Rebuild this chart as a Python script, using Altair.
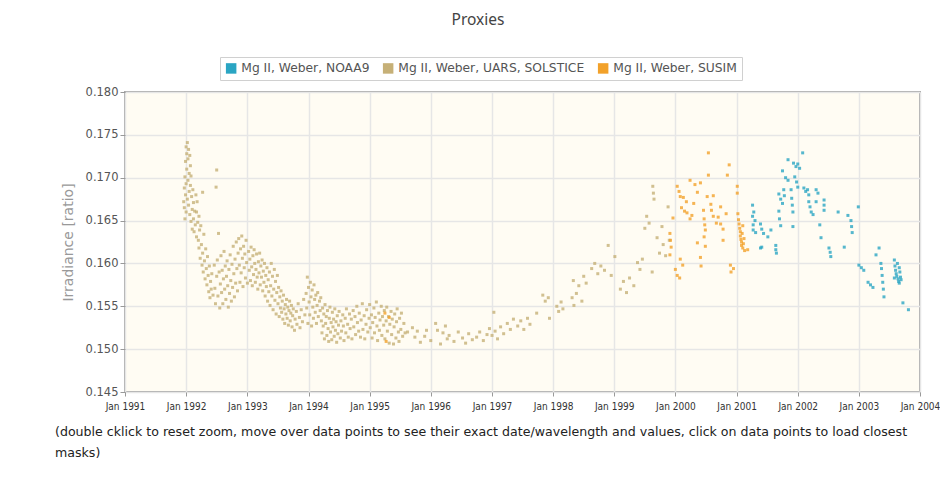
import altair as alt
import pandas as pd

TITLE = "Proxies"
Y_TITLE = "Irradiance [ratio]"
SERIES = ["Mg II, Weber, NOAA9", "Mg II, Weber, UARS, SOLSTICE", "Mg II, Weber, SUSIM"]
COLORS = ["#2aa5c3", "#c6b077", "#f2a12a"]
X_TICK_YEARS = list(range(1991, 2005))
Y_TICKS = [0.145, 0.150, 0.155, 0.160, 0.165, 0.170, 0.175, 0.180]
FOOTER = [
    "(double cklick to reset zoom, move over data points to see their exact date/wavelength and values, click on data points to load closest",
    "masks)",
]

# (decimal year, value)
SOLSTICE_PTS = [
    (1991.96,0.1672),(1991.97,0.1688),(1991.97,0.1665),(1991.98,0.1701),(1991.98,0.1652),(1991.99,0.1719),(1991.99,0.1680),
    (1992.00,0.1736),(1992.00,0.1693),(1992.00,0.1660),(1992.01,0.1728),(1992.01,0.1710),(1992.02,0.1741),(1992.02,0.1675),
    (1992.03,0.1722),(1992.03,0.1697),(1992.04,0.1733),(1992.04,0.1668),(1992.05,0.1705),(1992.05,0.1684),(1992.06,0.1726),
    (1992.06,0.1657),(1992.07,0.1714),(1992.07,0.1691),(1992.08,0.1702),(1992.08,0.1649),(1992.09,0.1678),(1992.10,0.1663),
    (1992.10,0.1640),(1992.11,0.1686),(1992.12,0.1671),(1992.12,0.1652),(1992.13,0.1637),(1992.14,0.1661),(1992.15,0.1645),
    (1992.16,0.1680),(1992.17,0.1660),(1992.17,0.1631),(1992.18,0.1672),(1992.19,0.1648),(1992.20,0.1627),(1992.21,0.1655),
    (1992.21,0.1618),(1992.22,0.1639),(1992.23,0.1606),(1992.24,0.1644),(1992.25,0.1622),(1992.26,0.1598),(1992.27,0.1612),
    (1992.28,0.1590),(1992.29,0.1634),(1992.30,0.1603),(1992.31,0.1582),(1992.32,0.1617),(1992.33,0.1594),(1992.34,0.1575),
    (1992.35,0.1608),(1992.36,0.1586),(1992.37,0.1567),(1992.38,0.1597),(1992.39,0.1560),(1992.40,0.1579),(1992.41,0.1570),
    (1992.42,0.1588),(1992.44,0.1563),(1992.50,0.1709),(1992.49,0.1689),(1992.27,0.1683),
    (1992.46,0.1598),(1992.47,0.1571),(1992.48,0.1553),(1992.50,0.1585),(1992.51,0.1604),(1992.52,0.1562),(1992.53,0.1635),
    (1992.54,0.1590),(1992.55,0.1548),(1992.56,0.1576),(1992.57,0.1609),(1992.58,0.1566),(1992.59,0.1592),(1992.60,0.1553),
    (1992.61,0.1582),(1992.62,0.1614),(1992.63,0.1570),(1992.64,0.1597),(1992.65,0.1558),(1992.66,0.1585),(1992.67,0.1603),
    (1992.68,0.1574),(1992.69,0.1549),(1992.70,0.1593),(1992.71,0.1565),(1992.72,0.1610),(1992.73,0.1580),(1992.74,0.1556),
    (1992.75,0.1599),(1992.76,0.1572),(1992.77,0.1620),(1992.78,0.1588),(1992.79,0.1561),(1992.80,0.1605),(1992.81,0.1577),
    (1992.82,0.1625),(1992.83,0.1594),(1992.84,0.1568),(1992.85,0.1612),
    (1992.86,0.1629),(1992.87,0.1598),(1992.88,0.1578),(1992.89,0.1617),(1992.90,0.1589),(1992.91,0.1632),(1992.92,0.1606),
    (1992.93,0.1573),(1992.94,0.1620),(1992.95,0.1595),(1992.96,0.1611),(1992.97,0.1583),(1992.98,0.1627),(1992.99,0.1601),
    (1993.00,0.1577),(1993.02,0.1614),(1993.03,0.1592),(1993.04,0.1605),(1993.05,0.1580),(1993.06,0.1619),(1993.07,0.1596),
    (1993.08,0.1574),(1993.09,0.1609),(1993.10,0.1587),(1993.11,0.1616),(1993.12,0.1600),(1993.13,0.1578),(1993.14,0.1593),
    (1993.15,0.1611),(1993.16,0.1584),(1993.17,0.1570),(1993.18,0.1602),(1993.19,0.1589),(1993.20,0.1612),(1993.21,0.1575),
    (1993.22,0.1597),(1993.23,0.1584),(1993.24,0.1604),(1993.25,0.1568),(1993.26,0.1591),(1993.27,0.1578),(1993.28,0.1600),
    (1993.29,0.1562),(1993.30,0.1586),(1993.31,0.1573),(1993.32,0.1595),(1993.33,0.1556),(1993.34,0.1581),(1993.35,0.1567),
    (1993.36,0.1590),(1993.37,0.1551),(1993.38,0.1574),(1993.39,0.1600),(1993.40,0.1562),(1993.41,0.1585),(1993.42,0.1546),
    (1993.43,0.1570),(1993.44,0.1593),(1993.45,0.1557),(1993.46,0.1579),(1993.47,0.1541),(1993.48,0.1566),(1993.49,0.1586),
    (1993.50,0.1553),(1993.51,0.1572),(1993.52,0.1538),(1993.53,0.1561),(1993.54,0.1548),(1993.55,0.1568),(1993.56,0.1543),
    (1993.57,0.1556),(1993.58,0.1535),(1993.59,0.1563),(1993.60,0.1547),(1993.61,0.1530),(1993.62,0.1552),(1993.63,0.1541),
    (1993.64,0.1558),(1993.65,0.1536),(1993.66,0.1549),(1993.67,0.1528),(1993.68,0.1545),(1993.69,0.1556),(1993.70,0.1533),
    (1993.71,0.1542),(1993.72,0.1551),(1993.73,0.1526),(1993.74,0.1539),(1993.75,0.1547),(1993.77,0.1522),(1993.78,0.1535),
    (1993.80,0.1544),(1993.81,0.1529),(1993.83,0.1553),(1993.85,0.1537),(1993.86,0.1525),(1993.88,0.1546),(1993.90,0.1532),
    (1993.92,0.1558),(1993.94,0.1540),
    (1993.96,0.1565),(1993.97,0.1548),(1993.98,0.1584),(1993.99,0.1530),(1994.00,0.1572),(1994.01,0.1555),(1994.02,0.1540),
    (1994.03,0.1578),(1994.04,0.1561),(1994.05,0.1527),(1994.06,0.1569),(1994.07,0.1549),(1994.08,0.1536),(1994.09,0.1575),
    (1994.10,0.1558),(1994.11,0.1543),(1994.12,0.1563),(1994.13,0.1530),(1994.14,0.1551),(1994.15,0.1566),(1994.16,0.1538),
    (1994.18,0.1556),(1994.19,0.1545),
    (1994.20,0.1560),(1994.21,0.1533),(1994.22,0.1519),(1994.23,0.1548),(1994.24,0.1527),(1994.25,0.1541),(1994.26,0.1512),
    (1994.27,0.1552),(1994.28,0.1530),(1994.29,0.1538),(1994.30,0.1516),(1994.31,0.1545),(1994.32,0.1524),(1994.33,0.1509),
    (1994.34,0.1536),(1994.35,0.1549),(1994.36,0.1520),(1994.37,0.1531),(1994.38,0.1511),(1994.39,0.1543),(1994.40,0.1526),
    (1994.41,0.1535),(1994.42,0.1515),(1994.43,0.1547),(1994.44,0.1522),(1994.45,0.1532),(1994.46,0.1508),(1994.47,0.1539),
    (1994.48,0.1518),(1994.49,0.1528),(1994.50,0.1544),(1994.52,0.1513),(1994.53,0.1533),(1994.54,0.1521),(1994.56,0.1540),
    (1994.57,0.1527),(1994.58,0.1510),(1994.60,0.1536),(1994.61,0.1519),(1994.62,0.1547),(1994.64,0.1529),(1994.65,0.1514),
    (1994.67,0.1541),(1994.68,0.1524),(1994.70,0.1535),(1994.71,0.1512),(1994.73,0.1545),(1994.74,0.1526),(1994.76,0.1538),
    (1994.77,0.1517),(1994.79,0.1550),(1994.80,0.1531),(1994.82,0.1521),(1994.83,0.1542),(1994.85,0.1514),(1994.86,0.1534),
    (1994.88,0.1553),(1994.89,0.1523),(1994.91,0.1539),(1994.92,0.1512),(1994.94,0.1529),(1994.95,0.1546),(1994.97,0.1520),
    (1994.99,0.1536),
    (1995.00,0.1552),(1995.01,0.1525),(1995.03,0.1540),(1995.04,0.1513),(1995.05,0.1531),(1995.07,0.1548),(1995.08,0.1519),
    (1995.09,0.1537),(1995.11,0.1555),(1995.12,0.1527),(1995.13,0.1510),(1995.15,0.1542),(1995.16,0.1522),(1995.17,0.1534),
    (1995.19,0.1550),(1995.20,0.1516),(1995.21,0.1538),(1995.23,0.1528),(1995.24,0.1545),(1995.25,0.1512),(1995.27,0.1533),
    (1995.28,0.1549),(1995.29,0.1521),(1995.31,0.1538),(1995.32,0.1507),(1995.33,0.1529),(1995.35,0.1544),(1995.36,0.1517),
    (1995.37,0.1535),(1995.39,0.1506),(1995.40,0.1526),(1995.41,0.1541),(1995.43,0.1513),(1995.44,0.1532),(1995.45,0.1547),
    (1995.47,0.1520),(1995.48,0.1509),(1995.49,0.1536),(1995.51,0.1523),(1995.52,0.1542),(1995.54,0.1515),(1995.56,0.1530),
    (1995.58,0.1519),
    (1995.62,0.1520),(1995.70,0.1525),(1995.74,0.1514),(1995.78,0.1521),(1995.83,0.1508),(1995.90,0.1515),(1995.93,0.1522),
    (1996.00,0.1510),(1996.08,0.1530),(1996.11,0.1522),(1996.16,0.1506),(1996.20,0.1519),(1996.24,0.1527),(1996.27,0.1512),
    (1996.30,0.1516),(1996.38,0.1509),(1996.45,0.1520),(1996.52,0.1513),(1996.57,0.1507),(1996.62,0.1518),(1996.68,0.1511),
    (1996.75,0.1514),(1996.80,0.1520),(1996.86,0.1510),(1996.92,0.1517),(1996.96,0.1524),(1997.00,0.1516),(1997.03,0.1543),
    (1997.05,0.1521),(1997.09,0.1512),(1997.14,0.1526),(1997.19,0.1518),(1997.25,0.1530),(1997.30,0.1523),(1997.35,0.1535),
    (1997.42,0.1527),(1997.47,0.1533),(1997.52,0.1523),(1997.58,0.1536),(1997.62,0.1529),(1997.73,0.1542),(1997.83,0.1563),
    (1997.87,0.1556),(1997.92,0.1560),(1997.94,0.1536),(1998.06,0.1550),(1998.09,0.1544),(1998.13,0.1555),(1998.16,0.1547),
    (1998.31,0.1560),(1998.34,0.1551),(1998.38,0.1565),(1998.33,0.1580),(1998.42,0.1574),(1998.47,0.1556),(1998.50,0.1585),
    (1998.54,0.1577),
    (1998.63,0.1594),(1998.68,0.1600),(1998.73,0.1588),(1998.78,0.1597),(1998.84,0.1592),(1998.90,0.1621),(1998.95,0.1586),
    (1999.01,0.1608),(1999.10,0.1570),(1999.15,0.1579),(1999.20,0.1566),(1999.25,0.1583),(1999.32,0.1574),(1999.38,0.1601),
    (1999.42,0.1593),(1999.46,0.1605),(1999.50,0.1641),(1999.53,0.1655),(1999.57,0.1647),(1999.62,0.1590),(1999.63,0.1690),
    (1999.64,0.1682),(1999.65,0.1675),(1999.70,0.1630),(1999.74,0.1612),(1999.78,0.1643),(1999.80,0.1622),(1999.84,0.1609),
    (1999.88,0.1666),(1999.90,0.1627),
]

SUSIM_PTS = [
    (1995.25,0.1542),(1995.32,0.1537),(1995.27,0.1509),
    (2000.54,0.1729),(2000.88,0.1715),(2000.85,0.1703),(2000.54,0.1703),(2000.24,0.1697),(2000.32,0.1692),(2000.41,0.1694),
    (2000.03,0.1690),(2000.06,0.1684),(2000.08,0.1678),(2000.13,0.1677),(2000.18,0.1672),(2000.36,0.1683),(2000.52,0.1678),
    (2000.62,0.1679),(2000.74,0.1666),(1999.96,0.1653),(2000.19,0.1659),(2000.24,0.1652),(2000.27,0.1656),(2000.46,0.1662),
    (2000.47,0.1652),(2000.48,0.1645),(2000.49,0.1639),(2000.59,0.1662),(2000.62,0.1655),(2000.70,0.1654),(2000.74,0.1646),
    (2000.78,0.1640),(1999.91,0.1635),(1999.92,0.1627),(1999.93,0.1619),(2000.36,0.1624),(2000.47,0.1631),(2000.49,0.1620),
    (2000.78,0.1627),(1999.91,0.1610),(2000.08,0.1605),(2000.12,0.1598),(2000.41,0.1607),(2000.42,0.1597),(2000.00,0.1593),
    (2000.03,0.1586),(2000.07,0.1583),(2000.90,0.1598),(2000.91,0.1590),(2000.95,0.1594),
    (2000.10,0.1665),(2000.15,0.1661),(2000.30,0.1670),(2000.58,0.1669),(2000.67,0.1647),(2000.83,0.1658),
    (2001.01,0.1690),(2001.01,0.1682),(2001.02,0.1658),(2001.03,0.1651),(2001.04,0.1646),(2001.05,0.1641),(2001.06,0.1637),
    (2001.06,0.1632),(2001.07,0.1628),(2001.08,0.1625),(2001.08,0.1621),(2001.09,0.1635),(2001.10,0.1644),(2001.10,0.1618),
    (2001.11,0.1623),(2001.12,0.1629),(2001.13,0.1615),(2001.18,0.1616),
]

NOAA9_PTS = [
    (2001.26,0.1668),(2001.26,0.1655),(2001.27,0.1645),(2001.27,0.1639),(2001.28,0.1660),(2001.30,0.1650),(2001.31,0.1636),
    (2001.39,0.1646),(2001.41,0.1640),(2001.44,0.1635),(2001.51,0.1631),(2001.39,0.1618),(2001.41,0.1619),(2001.56,0.1639),
    (2001.64,0.1621),(2001.64,0.1616),(2001.65,0.1612),(2001.69,0.1661),(2001.70,0.1652),(2001.72,0.1644),(2001.69,0.1681),
    (2001.72,0.1675),(2001.75,0.1670),(2001.77,0.1686),(2001.78,0.1679),(2001.84,0.1721),(2001.75,0.1708),(2001.80,0.1700),
    (2001.84,0.1697),(2001.89,0.1686),(2001.90,0.1676),(2001.91,0.1668),(2001.92,0.1660),(2001.92,0.1643),(2001.93,0.1717),
    (2001.97,0.1713),(2002.00,0.1716),(2002.03,0.1711),(2001.95,0.1701),(2001.98,0.1695),(2002.00,0.1689),(2002.08,0.1729),
    (2002.10,0.1688),(2002.13,0.1684),(2002.16,0.1686),(2002.18,0.1680),(2002.18,0.1672),(2002.20,0.1666),(2002.22,0.1660),
    (2002.25,0.1657),(2002.30,0.1686),(2002.33,0.1682),(2002.30,0.1672),(2002.43,0.1674),(2002.43,0.1668),(2002.43,0.1662),
    (2002.36,0.1645),(2002.38,0.1630),(2002.51,0.1618),(2002.53,0.1613),(2002.54,0.1608),(2002.66,0.1660),(2002.76,0.1619),
    (2002.82,0.1656),(2002.87,0.1650),(2002.88,0.1643),(2002.89,0.1636),(2002.99,0.1666),(2003.00,0.1598),(2003.04,0.1595),
    (2003.08,0.1592),(2003.15,0.1578),(2003.19,0.1575),(2003.23,0.1572),(2003.28,0.1610),(2003.33,0.1618),(2003.36,0.1600),
    (2003.37,0.1594),(2003.38,0.1586),(2003.39,0.1578),(2003.40,0.1570),(2003.41,0.1561),(2003.58,0.1604),(2003.59,0.1597),
    (2003.60,0.1592),(2003.61,0.1588),(2003.62,0.1585),(2003.63,0.1600),(2003.64,0.1582),(2003.65,0.1579),(2003.66,0.1595),
    (2003.66,0.1577),(2003.67,0.1590),(2003.68,0.1584),(2003.69,0.1581),(2003.58,0.1583),(2003.72,0.1554),(2003.81,0.1546),
]


def to_iso(dy):
    year = int(dy)
    ts = pd.Timestamp(year=year, month=1, day=1) + pd.Timedelta(days=(dy - year) * 365.25)
    return ts.strftime("%Y-%m-%dT%H:%M:%S")


rows = []
for name, pts in [(SERIES[1], SOLSTICE_PTS), (SERIES[2], SUSIM_PTS), (SERIES[0], NOAA9_PTS)]:
    for dy, v in pts:
        rows.append({"date": to_iso(dy), "value": v, "series": name})
df = pd.DataFrame(rows)

x_ticks = [alt.DateTime(year=y, month=1, date=1) for y in X_TICK_YEARS]

NARROW = "DejaVu Sans Condensed, Liberation Sans Narrow, Liberation Sans"

points = alt.Chart(df).mark_square(size=9, opacity=0.8).encode(
    x=alt.X(
        "date:T",
        scale=alt.Scale(domain=[x_ticks[0], x_ticks[-1]], nice=False),
        axis=alt.Axis(
            values=x_ticks, format="%b %Y", title=None, labelFont=NARROW,
            labelFontSize=10, labelColor="#333", tickColor="#999", tickSize=4, domain=False,
            gridColor="#e6e6e6", gridWidth=1.5, labelPadding=5, labelOverlap=False,
            labelBound=False, labelFlush=False,
        ),
    ),
    y=alt.Y(
        "value:Q",
        scale=alt.Scale(domain=[0.145, 0.180], nice=False, zero=False),
        axis=alt.Axis(
            values=Y_TICKS, format=".3f", title=Y_TITLE, titleFont="DejaVu Sans",
            titleFontSize=14, titleFontWeight="normal", titleColor="#999", titlePadding=10,
            labelFont="DejaVu Sans", labelFontSize=11.5, labelColor="#555",
            tickColor="#999", tickSize=5, domain=False, gridColor="#e6e6e6", gridWidth=1.5,
        ),
    ),
    color=alt.Color(
        "series:N",
        scale=alt.Scale(domain=SERIES, range=COLORS),
        legend=alt.Legend(
            title=None, orient="none", legendX=95, legendY=-35, direction="horizontal",
            symbolType="square", symbolSize=110, symbolOpacity=1, symbolStrokeWidth=0,
            labelFont="DejaVu Sans", labelFontSize=12.3, labelColor="#555", labelLimit=400,
            strokeColor="#d0d0d0", fillColor="#ffffff", padding=5, columnPadding=12,
        ),
    ),
)

title_text = alt.Chart(pd.DataFrame({"t": [TITLE]})).mark_text(
    font="Noto Sans", fontSize=15.5, color="#444", align="center", baseline="middle"
).encode(text="t:N", x=alt.value(353), y=alt.value(-72))

footer1 = alt.Chart(pd.DataFrame({"t": [FOOTER[0]]})).mark_text(
    font="DejaVu Sans", fontSize=12.6, color="#222", align="left", baseline="middle"
).encode(text="t:N", x=alt.value(-70), y=alt.value(340))

footer2 = alt.Chart(pd.DataFrame({"t": [FOOTER[1]]})).mark_text(
    font="DejaVu Sans", fontSize=12.6, color="#222", align="left", baseline="middle"
).encode(text="t:N", x=alt.value(-70), y=alt.value(361))

chart = alt.layer(points, title_text, footer1, footer2).properties(
    width=795, height=300,
    autosize=alt.AutoSizeParams(type="none"),
    padding={"left": 117, "top": 84, "right": 20, "bottom": 72},
    background="#ffffff",
).configure_view(fill="#fffcf3", stroke="#a8a8a8", strokeWidth=2)

chart.save("out.html", embed_options={"renderer": "svg", "actions": False})
